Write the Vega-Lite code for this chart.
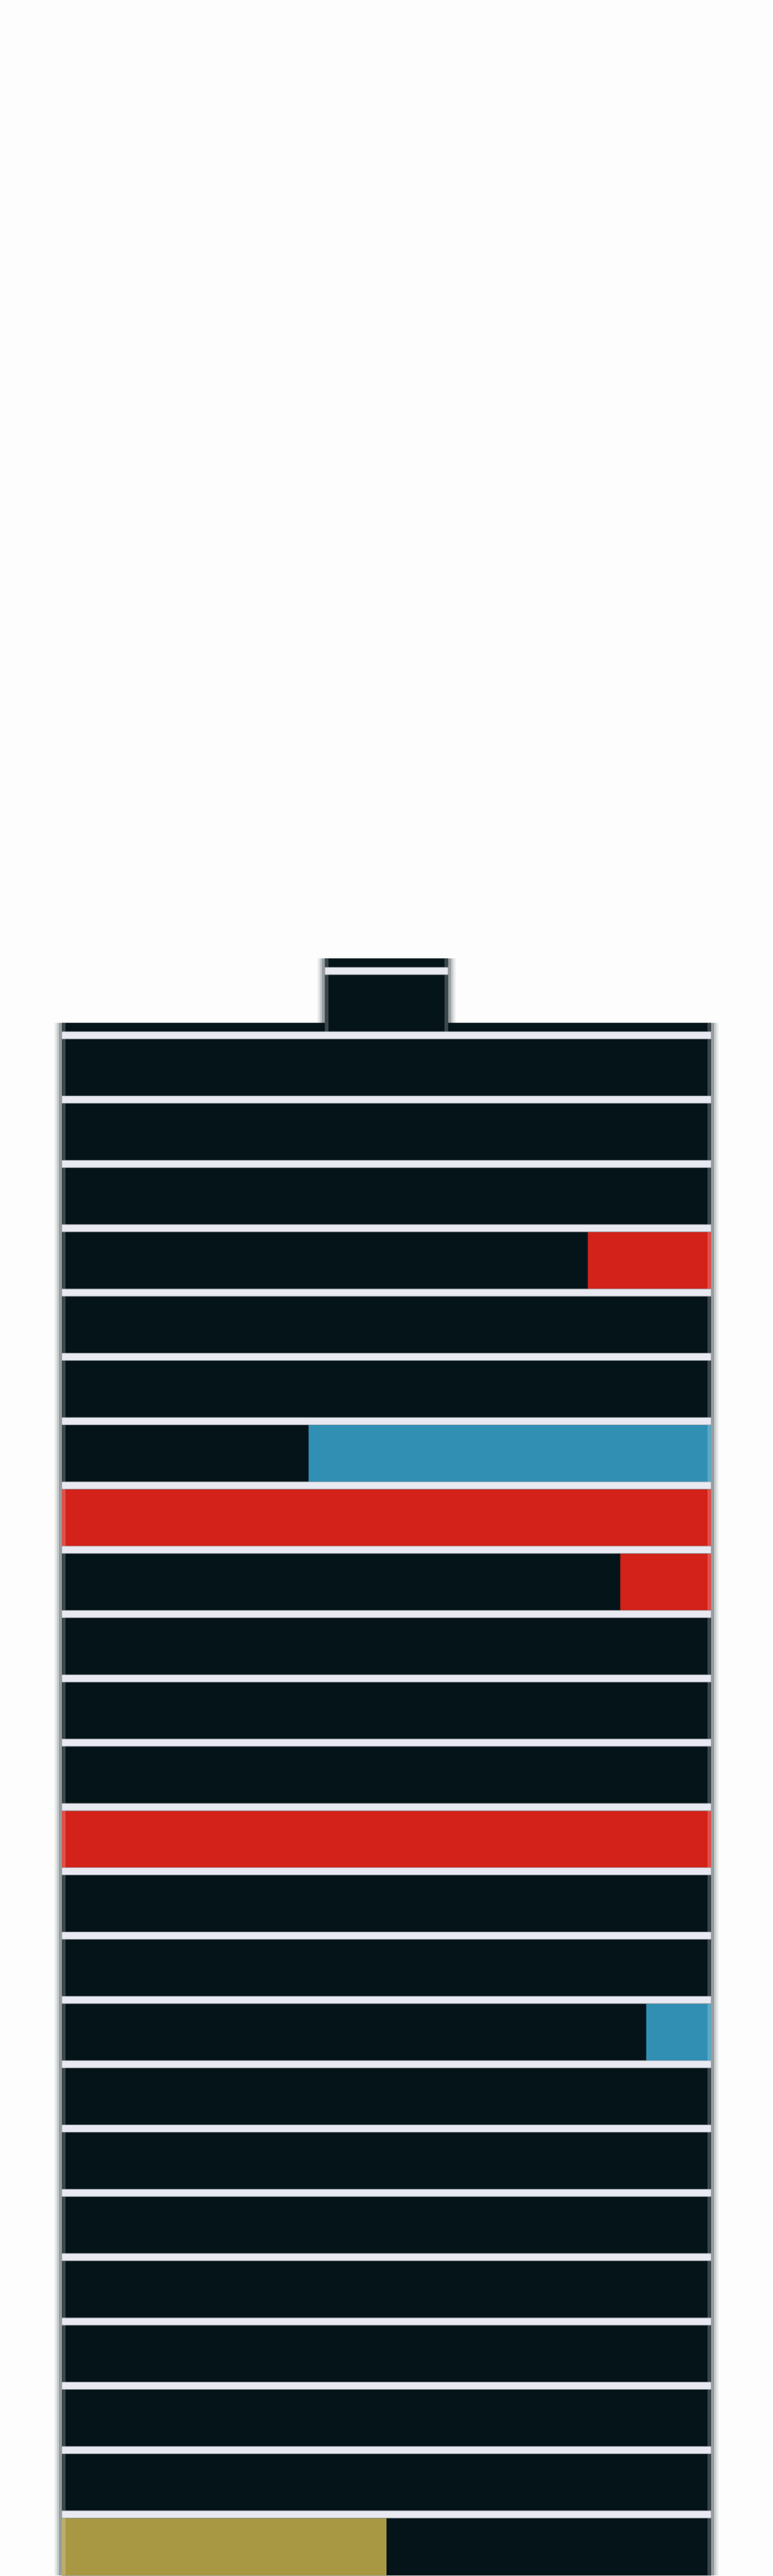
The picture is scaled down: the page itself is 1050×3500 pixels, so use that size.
{
  "$schema": "https://vega.github.io/schema/vega-lite/v6.json",
  "autosize": {"type": "fit", "contains": "padding"},
  "width": 1050,
  "height": 3500,
  "padding": 0,
  "background": "#fdfdfd",
  "config": {"view": {"stroke": null}},
  "datasets": {
    "floors": [
      {"floor": 25, "part": "penthouse", "start": 40.5, "end": 59.5},
      {"floor": 24, "part": "body", "start": 0, "end": 100},
      {"floor": 23, "part": "body", "start": 0, "end": 100},
      {"floor": 22, "part": "body", "start": 0, "end": 100},
      {"floor": 21, "part": "body", "start": 0, "end": 100},
      {"floor": 20, "part": "body", "start": 0, "end": 100},
      {"floor": 19, "part": "body", "start": 0, "end": 100},
      {"floor": 18, "part": "body", "start": 0, "end": 100},
      {"floor": 17, "part": "body", "start": 0, "end": 100},
      {"floor": 16, "part": "body", "start": 0, "end": 100},
      {"floor": 15, "part": "body", "start": 0, "end": 100},
      {"floor": 14, "part": "body", "start": 0, "end": 100},
      {"floor": 13, "part": "body", "start": 0, "end": 100},
      {"floor": 12, "part": "body", "start": 0, "end": 100},
      {"floor": 11, "part": "body", "start": 0, "end": 100},
      {"floor": 10, "part": "body", "start": 0, "end": 100},
      {"floor": 9, "part": "body", "start": 0, "end": 100},
      {"floor": 8, "part": "body", "start": 0, "end": 100},
      {"floor": 7, "part": "body", "start": 0, "end": 100},
      {"floor": 6, "part": "body", "start": 0, "end": 100},
      {"floor": 5, "part": "body", "start": 0, "end": 100},
      {"floor": 4, "part": "body", "start": 0, "end": 100},
      {"floor": 3, "part": "body", "start": 0, "end": 100},
      {"floor": 2, "part": "body", "start": 0, "end": 100},
      {"floor": 1, "part": "body", "start": 0, "end": 100}
    ],
    "segments": [
      {"floor": 21, "start": 81, "end": 100, "status": "red"},
      {"floor": 18, "start": 38, "end": 100, "status": "blue"},
      {"floor": 17, "start": 0, "end": 100, "status": "red"},
      {"floor": 16, "start": 86, "end": 100, "status": "red"},
      {"floor": 12, "start": 0, "end": 100, "status": "red"},
      {"floor": 9, "start": 90, "end": 100, "status": "blue"},
      {"floor": 1, "start": 0, "end": 50, "status": "olive"}
    ]
  },
  "layer": [
    {
      "data": {"name": "floors"},
      "transform": [
        {"aggregate": [
          {"op": "max", "field": "floor", "as": "topFloor"},
          {"op": "min", "field": "floor", "as": "bottomFloor"},
          {"op": "min", "field": "start", "as": "left"},
          {"op": "max", "field": "end", "as": "right"}
        ], "groupby": ["part"]}
      ],
      "layer": [
        {
          "mark": {"type": "rect", "color": "#051419", "opacity": 0.08, "xOffset": -10, "x2Offset": 10, "yOffset": -22, "y2Offset": 78},
          "encoding": {
            "x": {"field": "left", "type": "quantitative", "scale": {"domain": [-9.524, 109.524], "nice": false, "zero": false}, "axis": null},
            "x2": {"field": "right"},
            "y": {"field": "topFloor", "type": "quantitative", "scale": {"domain": [0.2707, 40.1566], "nice": false, "zero": false}, "axis": null},
            "y2": {"field": "bottomFloor"}
          }
        },
        {
          "mark": {"type": "rect", "color": "#051419", "opacity": 0.14, "xOffset": -7, "x2Offset": 7, "yOffset": -22, "y2Offset": 78},
          "encoding": {
            "x": {"field": "left", "type": "quantitative"},
            "x2": {"field": "right"},
            "y": {"field": "topFloor", "type": "quantitative"},
            "y2": {"field": "bottomFloor"}
          }
        },
        {
          "mark": {"type": "rect", "color": "#051419", "opacity": 0.25, "xOffset": -4, "x2Offset": 4, "yOffset": -22, "y2Offset": 78},
          "encoding": {
            "x": {"field": "left", "type": "quantitative"},
            "x2": {"field": "right"},
            "y": {"field": "topFloor", "type": "quantitative"},
            "y2": {"field": "bottomFloor"}
          }
        },
        {
          "mark": {"type": "rect", "color": "#051419", "yOffset": -22, "y2Offset": 78},
          "encoding": {
            "x": {"field": "left", "type": "quantitative"},
            "x2": {"field": "right"},
            "y": {"field": "topFloor", "type": "quantitative"},
            "y2": {"field": "bottomFloor"}
          }
        }
      ]
    },
    {
      "data": {"name": "segments"},
      "mark": {"type": "rect", "y2Offset": 78},
      "encoding": {
        "x": {"field": "start", "type": "quantitative"},
        "x2": {"field": "end"},
        "y": {"field": "floor", "type": "quantitative"},
        "y2": {"field": "floor"},
        "color": {"field": "status", "type": "nominal", "scale": {"domain": ["red", "blue", "olive"], "range": ["#d22219", "#318fb4", "#a89843"]}, "legend": null}
      }
    },
    {
      "data": {"name": "floors"},
      "transform": [
        {"aggregate": [
          {"op": "max", "field": "floor", "as": "topFloor"},
          {"op": "min", "field": "floor", "as": "bottomFloor"},
          {"op": "min", "field": "start", "as": "left"},
          {"op": "max", "field": "end", "as": "right"}
        ], "groupby": ["part"]}
      ],
      "layer": [
        {
          "mark": {"type": "rect", "color": "#ffffff", "opacity": 0.22, "x2Offset": 5, "yOffset": -22, "y2Offset": 78},
          "encoding": {
            "x": {"field": "left", "type": "quantitative"},
            "x2": {"field": "left"},
            "y": {"field": "topFloor", "type": "quantitative"},
            "y2": {"field": "bottomFloor"}
          }
        },
        {
          "mark": {"type": "rect", "color": "#ffffff", "opacity": 0.22, "xOffset": -5, "yOffset": -22, "y2Offset": 78},
          "encoding": {
            "x": {"field": "right", "type": "quantitative"},
            "x2": {"field": "right"},
            "y": {"field": "topFloor", "type": "quantitative"},
            "y2": {"field": "bottomFloor"}
          }
        }
      ]
    },
    {
      "data": {"name": "floors"},
      "mark": {"type": "rect", "color": "#e9e9f2", "stroke": "#8f959b", "strokeWidth": 0.6, "yOffset": -10},
      "encoding": {
        "x": {"field": "start", "type": "quantitative"},
        "x2": {"field": "end"},
        "y": {"field": "floor", "type": "quantitative"},
        "y2": {"field": "floor"}
      }
    }
  ]
}
